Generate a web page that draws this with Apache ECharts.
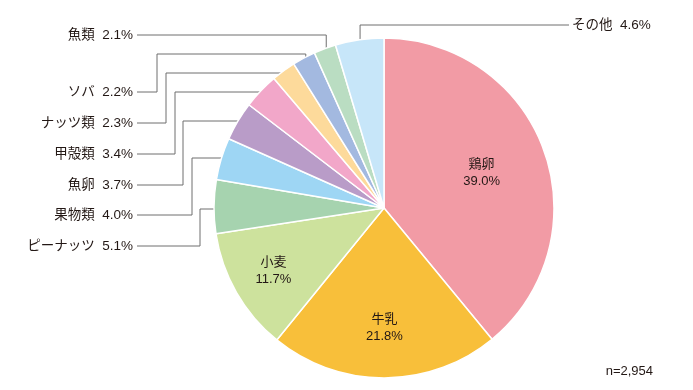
<!DOCTYPE html>
<html>
<head>
<meta charset="utf-8">
<script src="https://cdn.jsdelivr.net/npm/echarts@6/dist/echarts.min.js"></script>
<style>
html, body { margin: 0; padding: 0; background: #fff; }
#main { width: 693px; height: 390px; }
</style>
</head>
<body>
<div id="main"></div>
<script>
// データ
var names = ['鶏卵', '牛乳', '小麦', 'ピーナッツ', '果物類', '魚卵', '甲殻類', 'ナッツ類', 'ソバ', '魚類', 'その他'];
var values = [39.0, 21.8, 11.7, 5.1, 4.0, 3.7, 3.4, 2.3, 2.2, 2.1, 4.6];
var colors = ['#F29BA5', '#F8BF3A', '#CDE29D', '#A6D3AF', '#9ED6F4', '#B99CC8',
	'#F2A7C9', '#FDDA9B', '#A3B9E0', '#BADDC2', '#C7E6F9'];
var note = 'n=2,954';

// レイアウト
var CX = 384, CY = 208, R = 170;
var FONT = '"Liberation Sans", "Noto Sans CJK JP", sans-serif';
var TXT = '#231815';
// 内側ラベルの半径比
var innerRatio = { 0: 0.61, 1: 0.705, 2: 0.75 };
// 外側ラベル: [ラベルy, 折れ点x, 折れ点y]
var leftRows = {
	9: [35, null, null],
	8: [92, 157, 54],
	7: [123, 166, 73],
	6: [154, 175, 92],
	5: [185, 183, 121],
	4: [215, 192, 158],
	3: [246, 200, 209]
};

var sum = 0;
for (var k = 0; k < values.length; k++) sum += values[k];

function midAngle(i) {
	var acc = 0;
	for (var j = 0; j < i; j++) acc += values[j];
	return (acc + values[i] / 2) / sum * Math.PI * 2;
}
function pointAt(i, r) {
	var a = midAngle(i);
	return [CX + r * Math.sin(a), CY - r * Math.cos(a)];
}

var chart = echarts.init(document.getElementById('main'));

var data = names.map(function (n, i) {
	var item = { name: n, value: values[i], itemStyle: { color: colors[i] } };
	if (i < 3) {
		item.label = { position: 'inside', lineHeight: 17, fontSize: 13 };
		item.labelLine = { show: false };
	}
	return item;
});

var option = {
	animation: false,
	title: {
		text: note,
		right: 40,
		top: 365,
		padding: 0,
		textStyle: { fontSize: 13, fontWeight: 'normal', color: TXT, fontFamily: FONT }
	},
	series: [{
		type: 'pie',
		center: [CX, CY],
		radius: [0, R],
		startAngle: 90,
		clockwise: true,
		avoidLabelOverlap: false,
		emphasis: { disabled: true },
		itemStyle: { borderColor: '#fff', borderWidth: 1.5 },
		label: {
			show: true,
			position: 'outside',
			color: TXT,
			fontSize: 13.5,
			fontFamily: FONT,
			formatter: function (p) {
				var v = values[p.dataIndex].toFixed(1) + '%';
				return p.dataIndex < 3 ? p.name + '\n' + v : p.name + '  ' + v;
			}
		},
		labelLine: { show: true, lineStyle: { color: '#6e6e6e', width: 1 } },
		labelLayout: function (params) {
			var i = params.dataIndex;
			if (i < 3) {
				var c = pointAt(i, R * innerRatio[i]);
				return { x: c[0], y: c[1], align: 'center', verticalAlign: 'middle' };
			}
			var end = pointAt(i, R - 4);
			if (i === 10) {
				// その他 (右上)
				return {
					x: 572, y: 25, align: 'left', verticalAlign: 'middle',
					labelLinePoints: [[569, 25], [end[0], 25], end]
				};
			}
			var row = leftRows[i];
			var pts;
			if (row[1] == null) {
				pts = [[137, row[0]], [end[0], row[0]], end];
			} else {
				pts = [[137, row[0]], [row[1], row[0]], [row[1], row[2]], [end[0], row[2]], end];
			}
			return { x: 133, y: row[0], align: 'right', verticalAlign: 'middle', labelLinePoints: pts };
		},
		data: data
	}]
};
chart.setOption(option);
</script>
</body>
</html>
